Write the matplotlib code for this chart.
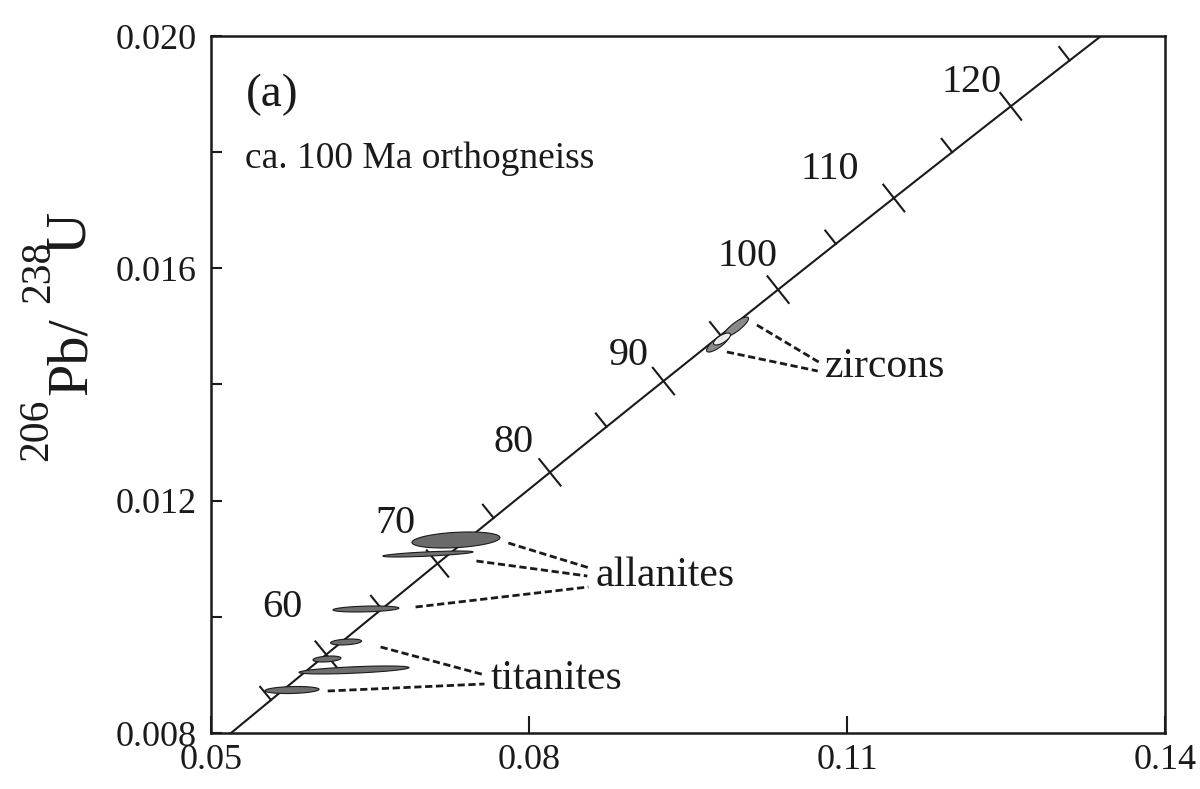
import numpy as np
import matplotlib
matplotlib.use("Agg")
import matplotlib.pyplot as plt

plt.rcParams['font.family'] = ['Liberation Serif', 'DejaVu Serif']

# ---------------- data ----------------
# decay constants (1/yr)
LAMBDA_238 = 1.55125e-10
LAMBDA_235 = 9.8485e-10

x_ticks = [0.05, 0.08, 0.11, 0.14]
x_tick_labels = ["0.05", "0.08", "0.11", "0.14"]
y_major = [0.008, 0.012, 0.016, 0.020]
y_major_labels = ["0.008", "0.012", "0.016", "0.020"]
y_minor = [0.010, 0.014, 0.018]

tick_ages = [55, 60, 65, 70, 75, 80, 85, 90, 95, 100, 105, 110, 115, 120, 125]
label_ages = [60, 70, 80, 90, 100, 110, 120]

# error ellipses: 207Pb/235U, 206Pb/238U, half-widths, correlation
zr_x = [0.09953, 0.09783, 0.09821]
zr_y = [0.014990, 0.014714, 0.014783]
zr_sx = [0.00118, 0.00108, 0.00080]
zr_sy = [0.000172, 0.000155, 0.000103]
zr_rho = [0.85, 0.80, 0.70]

al_x = [0.07311, 0.07047, 0.06462]
al_y = [0.011323, 0.011082, 0.010135]
al_sx = [0.00415, 0.00425, 0.00311]
al_sy = [0.000138, 0.0000517, 0.0000517]
al_rho = [0.30, 0.70, 0.30]

ti_x = [0.06274, 0.06094, 0.06349, 0.05764]
ti_y = [0.009567, 0.009274, 0.009085, 0.008740]
ti_sx = [0.00146, 0.00132, 0.00519, 0.00255]
ti_sy = [0.0000517, 0.0000517, 0.0000689, 0.0000603]
ti_rho = [0.30, 0.30, 0.60, 0.20]

# leader lines (start on ellipse side, end at label)
zr_leaders = [((0.10150, 0.015024), (0.10733, 0.014387)),
              ((0.09867, 0.014560), (0.10724, 0.014232))]
al_leaders = [((0.07805, 0.011271), (0.08570, 0.010841)),
              ((0.07504, 0.010961), (0.08550, 0.010703)),
              ((0.06930, 0.010169), (0.08560, 0.010514))]
ti_leaders = [((0.06600, 0.009481), (0.07580, 0.009000)),
              ((0.06101, 0.008723), (0.07580, 0.008844))]

# ---------------- layout / style ----------------
W, H, DPI = 1200, 789, 100
ax_left, ax_right, ax_top, ax_bottom = 211, 1165, 36, 733
INK = '#1a1a1a'

label_offsets = {60: (-44, 47), 70: (-42, 40), 80: (-36, 30), 90: (-35, 26),
                 100: (-31, 33), 110: (-64, 29), 120: (-39, 24)}


def concordia(age_ma):
    t = np.asarray(age_ma) * 1e6
    return np.exp(LAMBDA_235 * t) - 1.0, np.exp(LAMBDA_238 * t) - 1.0


def ellipse_pts(cx, cy, sx, sy, rho, n=200):
    th = np.linspace(0, 2 * np.pi, n)
    ex = cx + sx * np.cos(th)
    ey = cy + sy * (rho * np.cos(th) + np.sqrt(1 - rho ** 2) * np.sin(th))
    return ex, ey


fig = plt.figure(figsize=(W / DPI, H / DPI), dpi=DPI)
ax = fig.add_axes([ax_left / W, 1 - ax_bottom / H,
                   (ax_right - ax_left) / W, (ax_bottom - ax_top) / H])
ax.set_xlim(0.05, 0.14)
ax.set_ylim(0.008, 0.020)

for s in ax.spines.values():
    s.set_linewidth(1.8)
    s.set_color(INK)

ax.set_xticks(x_ticks)
ax.set_xticklabels(x_tick_labels)
ax.set_yticks(y_major)
ax.set_yticklabels(y_major_labels)
ax.set_yticks(y_minor, minor=True)
ax.tick_params(axis='x', direction='in', length=12, width=1.5, pad=8,
               labelsize=26, colors=INK)
ax.tick_params(axis='y', which='both', direction='in', length=8, width=1.5,
               pad=10, labelsize=26, colors=INK)
ax.tick_params(top=False, right=False)

# concordia curve
ages = np.linspace(45, 135, 400)
cx, cy = concordia(ages)
ax.plot(cx, cy, color=INK, lw=1.5, zorder=3)

# concordia tick marks (perpendicular in display space)
T = ax.transData
Tinv = T.inverted()
L = 17.0
for a in tick_ages:
    p = T.transform(np.column_stack(concordia(a)))[0]
    q = T.transform(np.column_stack(concordia(a + 0.05)))[0]
    d = (q - p) / np.hypot(*(q - p))
    nrm = np.array([-d[1], d[0]])
    if a in label_ages:
        seg = np.array([p + nrm * L, p - nrm * L])
    else:
        seg = np.array([p + nrm * L, p])
    seg_d = Tinv.transform(seg)
    ax.plot(seg_d[:, 0], seg_d[:, 1], color=INK, lw=1.5, zorder=3)

for a in label_ages:
    px, py = concordia(a)
    ax.annotate(str(a), xy=(float(px), float(py)), xytext=label_offsets[a],
                textcoords='offset pixels', ha='center', va='center',
                fontsize=29, color=INK, zorder=5)

# ellipses
def draw_ellipses(xs, ys, sxs, sys_, rhos, colors, z=4):
    for cx_, cy_, sx_, sy_, r_, c_ in zip(xs, ys, sxs, sys_, rhos, colors):
        ex, ey = ellipse_pts(cx_, cy_, sx_, sy_, r_)
        ax.fill(ex, ey, facecolor=c_, edgecolor=INK, lw=0.8, zorder=z)

draw_ellipses(ti_x, ti_y, ti_sx, ti_sy, ti_rho, ['#6e6e6e'] * 4)
draw_ellipses(al_x[1:], al_y[1:], al_sx[1:], al_sy[1:], al_rho[1:], ['#6e6e6e'] * 2)
draw_ellipses(al_x[:1], al_y[:1], al_sx[:1], al_sy[:1], al_rho[:1], ['#6a6a6a'])
draw_ellipses(zr_x, zr_y, zr_sx, zr_sy, zr_rho, ['#8a8a8a', '#8a8a8a', '#ececec'])

# leader lines
for group in (zr_leaders, al_leaders, ti_leaders):
    for (x0, y0), (x1, y1) in group:
        ax.plot([x0, x1], [y0, y1], color=INK, lw=2.0,
                linestyle=(0, (2.6, 1.3)), zorder=2)

# mineral labels
ax.text(0.10790, 0.014300, "zircons", fontsize=30, va='center', ha='left',
        color=INK)
ax.text(0.08625, 0.010710, "allanites", fontsize=30, va='center', ha='left',
        color=INK)
ax.text(0.07640, 0.008930, "titanites", fontsize=30, va='center', ha='left',
        color=INK)

# panel annotations
ax.text(0.037, 0.915, "(a)", transform=ax.transAxes, fontsize=34,
        ha='left', va='center', color=INK)
ax.text(0.036, 0.811, "ca. 100 Ma orthogneiss", transform=ax.transAxes,
        fontsize=27, ha='left', va='baseline', color=INK)

# y-axis label built from pieces (superscript isotopes)
fig.text(37 / W, 1 - 430 / H, "206", rotation=90, fontsize=30,
         ha='center', va='center', color=INK)
fig.text(72 / W, 1 - 356 / H, "Pb/", rotation=90, fontsize=42,
         ha='center', va='center', color=INK)
fig.text(39 / W, 1 - 272 / H, "238", rotation=90, fontsize=30,
         ha='center', va='center', color=INK)
fig.text(70 / W, 1 - 232 / H, "U", rotation=90, fontsize=42,
         ha='center', va='center', color=INK)

fig.savefig("out.png", dpi=DPI)
